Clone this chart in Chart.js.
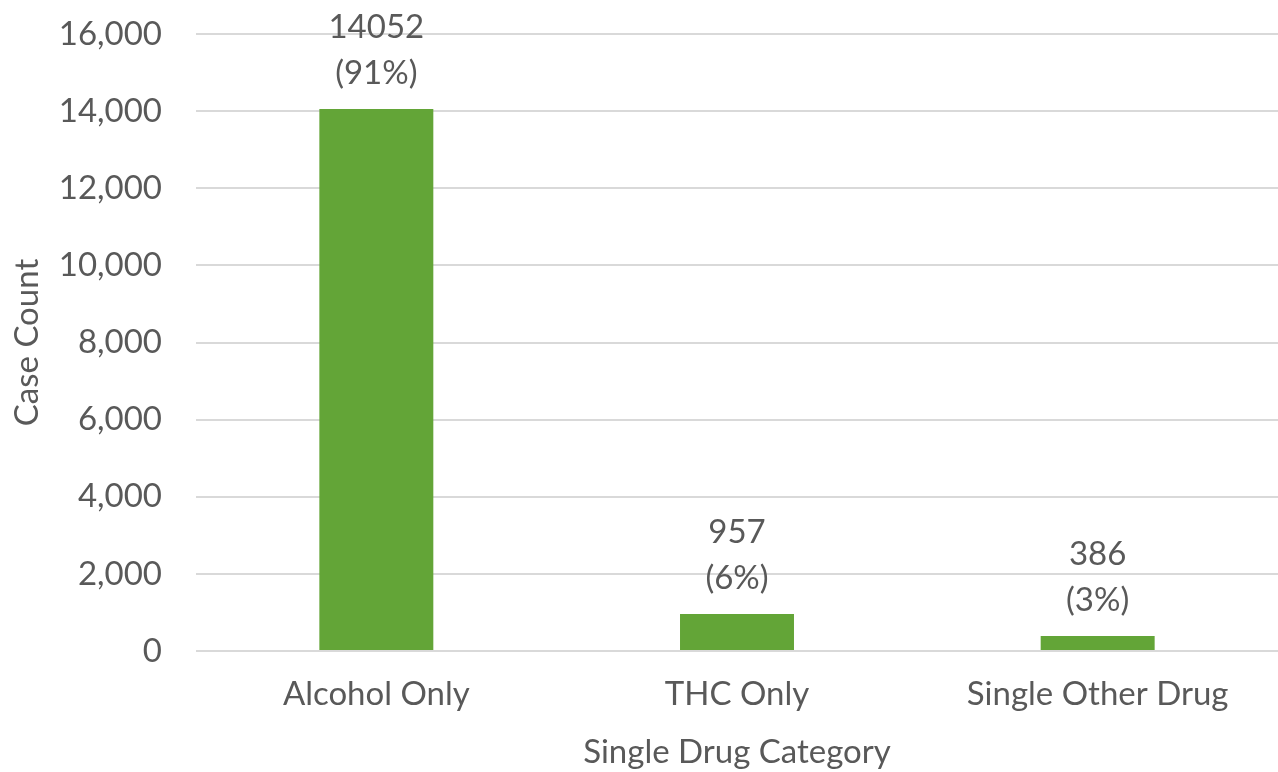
<!DOCTYPE html>
<html>
<head>
<meta charset="utf-8">
<script src="https://cdn.jsdelivr.net/npm/chart.js@4/dist/chart.umd.min.js"></script>
<style>
  html, body { margin: 0; padding: 0; background: #fff; }
  #wrap { width: 1278px; height: 772px; }
</style>
</head>
<body>
<div id="wrap"><canvas id="chart" width="1278" height="772"></canvas></div>
<script>
// data
const categories = ['Alcohol Only', 'THC Only', 'Single Other Drug'];
const caseCounts = [14052, 957, 386];
const percents = ['91%', '6%', '3%'];

const FONT = 'Lato, "Open Sans", sans-serif';
const TEXT = '#595959';
const SIZE = 33;

// two-line value labels above each bar
const barLabels = {
  id: 'barLabels',
  afterDatasetsDraw(chart) {
    const ctx = chart.ctx;
    const meta = chart.getDatasetMeta(0);
    ctx.save();
    ctx.font = SIZE + 'px ' + FONT;
    ctx.fillStyle = TEXT;
    ctx.textAlign = 'center';
    ctx.textBaseline = 'middle';
    meta.data.forEach((bar, i) => {
      ctx.fillText(String(caseCounts[i]), bar.x, bar.y - 82);
      ctx.fillText('(' + percents[i] + ')', bar.x, bar.y - 36);
    });
    ctx.restore();
  }
};

new Chart(document.getElementById('chart'), {
  type: 'bar',
  data: {
    labels: categories,
    datasets: [{
      data: caseCounts,
      backgroundColor: '#63a537',
      categoryPercentage: 1,
      barPercentage: 0.316
    }]
  },
  options: {
    responsive: false,
    animation: false,
    layout: { padding: { top: 34, right: 0, left: 8, bottom: 0 } },
    plugins: {
      legend: { display: false },
      tooltip: { enabled: false }
    },
    scales: {
      x: {
        grid: { display: false },
        border: { display: false },
        afterFit: s => { s.height = 121; s.paddingLeft = 0; s.paddingRight = 0; },
        ticks: { color: TEXT, font: { family: FONT, size: SIZE }, padding: 16 },
        title: {
          display: true,
          text: 'Single Drug Category',
          color: TEXT,
          font: { family: FONT, size: SIZE },
          padding: { top: 2, bottom: 0 }
        }
      },
      y: {
        min: 0,
        max: 16000,
        afterFit: s => { s.width = 188; s.paddingTop = 0; s.paddingBottom = 0; },
        ticks: {
          stepSize: 2000,
          color: TEXT,
          font: { family: FONT, size: SIZE },
          padding: 34,
          callback: v => v.toLocaleString('en-US')
        },
        grid: { color: '#d9d9d9', lineWidth: 2, drawTicks: false },
        border: { display: false },
        title: {
          display: true,
          text: 'Case Count',
          color: TEXT,
          font: { family: FONT, size: SIZE },
          padding: { top: 0, bottom: 8 }
        }
      }
    }
  },
  plugins: [barLabels]
});
</script>
</body>
</html>
